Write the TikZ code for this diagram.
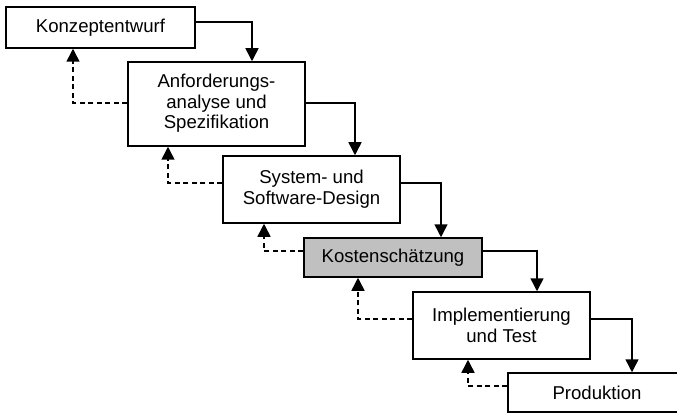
\documentclass[tikz,border=0pt]{standalone}
\usepackage{fontspec}
\setmainfont{Liberation Sans}
\usetikzlibrary{arrows.meta,calc}
\begin{document}
\begin{tikzpicture}[x=1pt,y=-1pt,
  phase/.style={draw,line width=1.5pt,fill=white,inner sep=0pt,align=center,
    font=\fontsize{18.6}{21}\selectfont},
  flow/.style={line width=1.5pt,-{Triangle[width=13pt,length=13pt]}},
  back/.style={line width=1.5pt,dash pattern=on 5pt off 3.5pt,-{Triangle[width=13pt,length=13pt]}}]
\useasboundingbox (0,0) rectangle (677,414);
\clip (0,0) rectangle (677,414);
\node[phase,minimum width=189pt,minimum height=41pt] (b1) at (100.5,27.5) {Konzeptentwurf};
\node[phase,minimum width=177pt,minimum height=84pt] (b2) at (216.5,104) {\raisebox{-4.5pt}{\begin{tabular}{@{}c@{}}Anforderungs-\\[-0.5pt]analyse und\\[-0.5pt]Spezifikation\end{tabular}}};
\node[phase,minimum width=177pt,minimum height=67pt] (b3) at (311.5,189.5) {System- und\\Software-Design};
\node[phase,fill={rgb,255:red,192;green,192;blue,192},minimum width=178pt,minimum height=39pt] (b4) at (393,257.5) {Kostenschätzung};
\node[phase,minimum width=177pt,minimum height=67pt] (b5) at (501.5,325.5) {Implementierung\\und Test};
\node[phase,minimum width=178pt,minimum height=39pt] (b6) at (597,392.5) {Produktion};
% forward flow
\draw[flow] ([yshift=5.5pt]b1.east) -| ([xshift=35.5pt]b2.north);
\draw[flow] ([yshift=1pt]b2.east) -| ([xshift=43.5pt]b3.north);
\draw[flow] ([yshift=6.5pt]b3.east) -| ([xshift=48pt]b4.north);
\draw[flow] ([yshift=6.5pt]b4.east) -| ([xshift=35.5pt]b5.north);
\draw[flow] ([yshift=6.5pt]b5.east) -| ([xshift=35pt]b6.north);
% feedback
\draw[back] ([yshift=1pt]b2.west) -| ([xshift=-27.5pt]b1.south);
\draw[back] ([yshift=6.5pt]b3.west) -| ([xshift=-48.5pt]b2.south);
\draw[back] ([yshift=6.5pt]b4.west) -| ([xshift=-47.5pt]b3.south);
\draw[back] ([yshift=6.5pt]b5.west) -| ([xshift=-35pt]b4.south);
\draw[back] ([yshift=6.5pt]b6.west) -| ([xshift=-33.5pt]b5.south);
\end{tikzpicture}
\end{document}
